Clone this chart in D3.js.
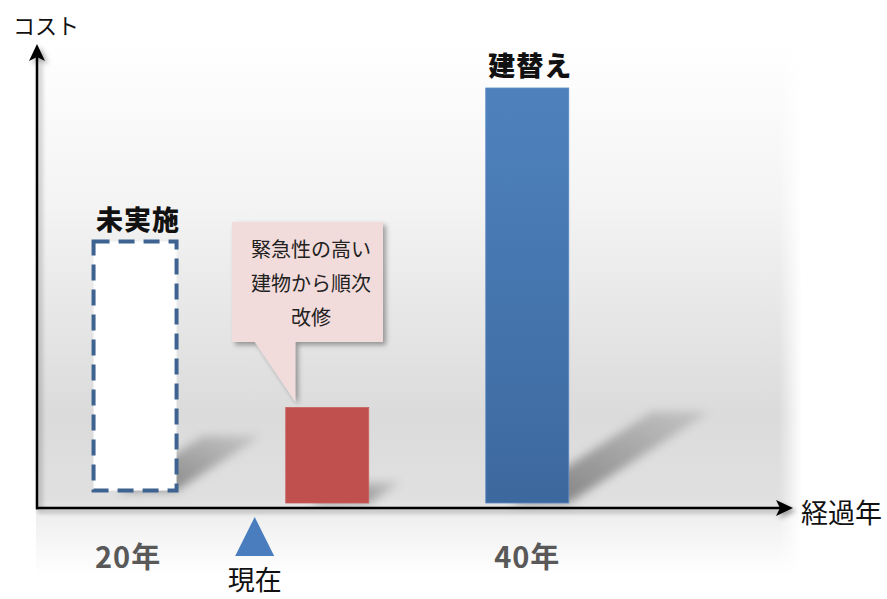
<!DOCTYPE html>
<html><head><meta charset="utf-8">
<script src="https://cdn.jsdelivr.net/npm/d3@7"></script>
<style>
html,body{margin:0;padding:0;background:#fff;}
svg{display:block;font-family:"Noto Sans CJK JP","Noto Sans",sans-serif;}
</style></head>
<body><svg id="c" width="887" height="599"></svg>
<script>
// ---- data ----
const barNames = ["未実施", "改修", "建替え"];
const barYears = [20, 29.8, 40];
const barValues = [63, 23, 100];
const barBases = [3, 0, 0];
const barKinds = ["planned", "repair", "rebuild"];
const tickYears = [20, 40];
const tickLabels = ["20年", "40年"];
const nowYear = 26;
const nowLabel = "現在";
const calloutLines = ["緊急性の高い", "建物から順次", "改修"];
const yAxisTitle = "コスト";
const xAxisTitle = "経過年";

// ---- layout ----
const svg = d3.select("#c");
const x = d3.scaleLinear().domain([15, 53.5]).range([37, 792]);
const y = d3.scaleLinear().domain([0, 100]).range([503, 88]);
const barW = 83;
const axisY = 508;

const defs = svg.append("defs");
const bg = defs.append("linearGradient").attr("id", "bg").attr("x1", 0).attr("y1", 0).attr("x2", 0).attr("y2", 1);
[[0, "#ffffff"], [0.3, "#f4f4f4"], [0.7, "#dbdbdb"], [0.86, "#e0e0e0"], [0.89, "#efefef"], [1, "#ffffff"]]
  .forEach(([o, c]) => bg.append("stop").attr("offset", o).attr("stop-color", c));
const hb = defs.append("linearGradient").attr("id", "bgh").attr("x1", 0).attr("y1", 0).attr("x2", 1).attr("y2", 0);
[[0, "#fff", 0], [0.97, "#fff", 0], [1, "#fff", 1]].forEach(([o, c, a]) => hb.append("stop").attr("offset", o).attr("stop-color", c).attr("stop-opacity", a));

const blue = defs.append("linearGradient").attr("id", "blue").attr("x1", 0).attr("y1", 0).attr("x2", 0).attr("y2", 1);
blue.append("stop").attr("offset", 0).attr("stop-color", "#4f82bd");
blue.append("stop").attr("offset", 1).attr("stop-color", "#3c689e");

const sh = defs.append("linearGradient").attr("id", "sh").attr("x1", 0).attr("y1", 1).attr("x2", 1).attr("y2", 0);
sh.append("stop").attr("offset", 0).attr("stop-color", "#000").attr("stop-opacity", 0.45);
sh.append("stop").attr("offset", 1).attr("stop-color", "#000").attr("stop-opacity", 0.1);

const blur = defs.append("filter").attr("id", "blur").attr("x", "-30%").attr("y", "-30%").attr("width", "160%").attr("height", "160%");
blur.append("feGaussianBlur").attr("stdDeviation", 5);

const ds = defs.append("filter").attr("id", "ds").attr("x", "-20%").attr("y", "-20%").attr("width", "150%").attr("height", "150%");
ds.append("feDropShadow").attr("dx", 3).attr("dy", 3).attr("stdDeviation", 2.5).attr("flood-color", "#000").attr("flood-opacity", 0.35);

// background panel
svg.append("rect").attr("x", 36).attr("y", 40).attr("width", 766).attr("height", 535).attr("fill", "url(#bg)");
svg.append("rect").attr("x", 36).attr("y", 40).attr("width", 766).attr("height", 535).attr("fill", "url(#bgh)");

// shadows
const data = barNames.map((n, i) => ({ name: n, year: barYears[i], value: barValues[i], base: barBases[i], kind: barKinds[i] }));
svg.append("g").selectAll("path").data(data).join("path")
  .attr("filter", "url(#blur)")
  .attr("fill", "url(#sh)")
  .attr("d", d => {
    const x0 = x(d.year) - barW / 2, x1 = x(d.year) + barW / 2;
    const b = y(d.base), h = y(d.base) - y(d.value);
    const dx = h * 0.34, dy = h * 0.22;
    return `M${x0 + 25},${b} L${x1},${b} L${x1 + dx},${b - dy} L${x0 + 25 + dx},${b - dy} Z`;
  });

// bars
const bars = svg.append("g");
bars.selectAll("rect").data(data).join("rect")
  .attr("x", d => x(d.year) - barW / 2)
  .attr("y", d => y(d.value))
  .attr("width", barW)
  .attr("height", d => y(d.base) - y(d.value))
  .attr("fill", d => d.kind === "planned" ? "#ffffff" : d.kind === "repair" ? "#c0504d" : "url(#blue)")
  .attr("stroke", d => d.kind === "planned" ? "#3f6390" : d.kind === "repair" ? "#c9605d" : "#5a8ac2")
  .attr("stroke-width", d => d.kind === "planned" ? 4 : 0.8)
  .attr("stroke-dasharray", d => d.kind === "planned" ? "16 9" : null);

// bar labels
svg.append("g").selectAll("text").data(data.filter(d => d.kind !== "repair")).join("text")
  .attr("x", d => x(d.year) + 3)
  .attr("y", d => y(d.value) - 12)
  .attr("text-anchor", "middle")
  .attr("font-size", 27).attr("font-weight", 900).attr("letter-spacing", 1)
  .attr("fill", "#111")
  .text(d => d.name);

// callout
const rep = data.find(d => d.kind === "repair");
const tipX = x(rep.year) - 32, tipY = y(rep.value) - 6;
const cg = svg.append("g").attr("filter", "url(#ds)");
cg.append("path")
  .attr("d", `M232,222 L383,222 L383,342 L${tipX},342 L${tipX},${tipY} L255,342 L232,342 Z`)
  .attr("fill", "#f2dcdb");
svg.append("g").selectAll("text").data(calloutLines).join("text")
  .attr("x", 311).attr("y", (d, i) => 257 + i * 34)
  .attr("text-anchor", "middle")
  .attr("font-size", 20).attr("fill", "#222")
  .text(d => d);

// axes
const ag = svg.append("g").attr("filter", "url(#ds)");
ag.append("line").attr("x1", 37).attr("y1", axisY + 1.2).attr("x2", 37).attr("y2", 50).attr("stroke", "#000").attr("stroke-width", 2.5);
ag.append("line").attr("x1", 36).attr("y1", axisY).attr("x2", 785).attr("y2", axisY).attr("stroke", "#000").attr("stroke-width", 2.5);
ag.append("path").attr("d", `M37,44 L45,61 L37,57 L29,61 Z`).attr("fill", "#000");
ag.append("path").attr("d", `M793,${axisY} L776,${axisY - 8} L780,${axisY} L776,${axisY + 8} Z`).attr("fill", "#000");

// axis titles
svg.append("text").attr("x", 13).attr("y", 34).attr("font-size", 22).attr("fill", "#111").text(yAxisTitle);
svg.append("text").attr("x", 801).attr("y", 523).attr("font-size", 27).attr("fill", "#111").text(xAxisTitle);

// tick labels
svg.append("g").selectAll("text").data(tickYears).join("text")
  .attr("x", (d, i) => x(d) - (i === 0 ? 7 : 0))
  .attr("y", 568)
  .attr("text-anchor", "middle")
  .attr("font-size", 29).attr("font-weight", 700).attr("letter-spacing", 1)
  .attr("fill", "#595959")
  .text((d, i) => tickLabels[i]);

// now marker
const nx = x(nowYear) + 2;
svg.append("path").attr("d", `M${nx},517 L${nx + 19.5},556 L${nx - 19.5},556 Z`).attr("fill", "#4a7dbd");
svg.append("text").attr("x", nx).attr("y", 590).attr("text-anchor", "middle").attr("font-size", 27).attr("fill", "#111").text(nowLabel);
</script></body></html>
